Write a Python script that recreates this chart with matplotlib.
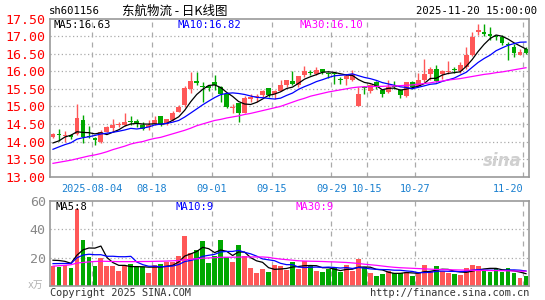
import numpy as np
import pandas as pd
import matplotlib
matplotlib.use("Agg")
import matplotlib.pyplot as plt

plt.rcParams['font.family'] = ['DejaVu Sans Mono']

# daily candles, 2025-07-24 .. 2025-11-20 (80 trading days)
opens = [14.12, 14.19, 14.15, 14.20, 14.21, 14.60, 14.15, 14.10, 14.00, 14.28,
         14.38, 14.47, 14.46, 14.58, 14.59, 14.48, 14.40, 14.50, 14.72, 14.50,
         14.60, 14.85, 15.03, 15.50, 15.72, 15.56, 15.57, 15.70, 15.55, 15.35,
         14.95, 15.10, 14.82, 15.22, 15.26, 15.32, 15.52, 15.35, 15.45, 15.60,
         15.71, 15.60, 15.88, 15.96, 15.91, 16.07, 15.94, 15.94, 15.77, 15.77,
         15.75, 15.02, 15.53, 15.43, 15.70, 15.48, 15.41, 15.56, 15.48, 15.30,
         15.68, 15.58, 15.74, 15.91, 16.05, 15.91, 15.99, 16.05, 16.00, 16.12,
         16.47, 17.11, 17.11, 17.05, 16.98, 16.97, 16.77, 16.70, 16.46, 16.64]
highs = [14.24, 14.35, 14.30, 14.22, 15.06, 14.75, 14.45, 14.13, 14.33, 14.45,
         14.63, 14.55, 14.80, 14.72, 14.63, 14.55, 14.60, 14.72, 14.73, 14.65,
         14.87, 15.04, 15.57, 15.99, 15.99, 15.70, 15.60, 15.89, 15.58, 15.36,
         15.08, 15.10, 15.29, 15.35, 15.35, 15.46, 15.52, 15.46, 15.76, 15.75,
         16.02, 15.86, 16.15, 16.04, 16.12, 16.07, 15.98, 15.95, 15.84, 15.93,
         16.03, 15.56, 15.57, 15.65, 15.72, 15.50, 15.74, 15.71, 15.50, 15.70,
         15.72, 15.95, 16.36, 16.12, 16.19, 16.03, 16.28, 16.12, 16.26, 16.69,
         17.11, 17.33, 17.35, 17.27, 17.02, 17.02, 16.83, 16.78, 16.64, 16.69]
lows = [14.10, 14.02, 14.00, 14.06, 14.20, 13.97, 14.10, 13.90, 13.97, 14.26,
        14.30, 14.40, 14.45, 14.46, 14.40, 14.32, 14.32, 14.46, 14.43, 14.47,
        14.58, 14.83, 14.97, 15.38, 15.60, 15.13, 15.45, 15.46, 15.13, 14.94,
        14.80, 14.56, 14.80, 15.13, 15.13, 15.27, 15.27, 15.22, 15.44, 15.55,
        15.62, 15.55, 15.85, 15.88, 15.88, 15.93, 15.80, 15.65, 15.65, 15.60,
        15.73, 15.00, 15.35, 15.38, 15.49, 15.27, 15.38, 15.50, 15.25, 15.28,
        15.50, 15.55, 15.69, 15.76, 15.69, 15.79, 15.93, 15.95, 15.95, 16.07,
        16.43, 17.02, 17.00, 16.88, 16.88, 16.76, 16.33, 16.40, 16.45, 16.50]
closes = [14.21, 14.18, 14.20, 14.12, 14.68, 14.12, 14.14, 14.03, 14.28, 14.42,
          14.46, 14.49, 14.56, 14.57, 14.50, 14.37, 14.48, 14.60, 14.50, 14.63,
          14.82, 14.97, 15.53, 15.71, 15.66, 15.55, 15.53, 15.60, 15.35, 14.97,
          14.97, 14.80, 15.25, 15.28, 15.27, 15.45, 15.32, 15.43, 15.60, 15.74,
          15.65, 15.86, 16.02, 15.95, 16.04, 15.98, 15.93, 15.93, 15.76, 15.86,
          15.93, 15.34, 15.52, 15.60, 15.55, 15.35, 15.55, 15.55, 15.32, 15.68,
          15.55, 15.76, 15.93, 16.05, 15.71, 16.00, 16.00, 16.04, 16.17, 16.47,
          16.97, 17.16, 17.05, 17.00, 16.97, 16.80, 16.75, 16.52, 16.56, 16.53]
prior_closes = [13.50, 13.55, 13.60, 13.65, 13.70, 13.88, 13.65, 13.87, 14.19]
ma30 = [13.38, 13.41, 13.44, 13.47, 13.51, 13.55, 13.59, 13.62, 13.66, 13.71,
        13.77, 13.82, 13.87, 13.93, 13.97, 14.00, 14.05, 14.09, 14.12, 14.17,
        14.22, 14.27, 14.32, 14.38, 14.45, 14.50, 14.55, 14.60, 14.63, 14.67,
        14.70, 14.73, 14.77, 14.80, 14.84, 14.88, 14.92, 14.96, 15.00, 15.06,
        15.12, 15.18, 15.23, 15.29, 15.33, 15.37, 15.41, 15.44, 15.47, 15.50,
        15.53, 15.55, 15.56, 15.56, 15.57, 15.57, 15.58, 15.58, 15.59, 15.60,
        15.61, 15.63, 15.65, 15.67, 15.70, 15.72, 15.75, 15.77, 15.79, 15.82,
        15.85, 15.88, 15.91, 15.93, 15.96, 15.98, 16.01, 16.04, 16.07, 16.10]

# volume, 万手
volumes = [13.9, 13.5, 14.6, 12.5, 54.3, 32.4, 20.3, 14.2, 19.8, 14.2,
           14.2, 10.4, 14.2, 15.4, 14.2, 13.7, 9.0, 14.6, 15.4, 17.0,
           17.0, 21.0, 35.2, 23.2, 25.3, 31.7, 16.3, 21.3, 32.4, 20.6,
           17.0, 28.8, 21.0, 12.8, 9.2, 11.8, 9.9, 15.1, 14.0, 11.1,
           16.8, 11.8, 18.0, 14.6, 10.4, 9.7, 11.8, 12.8, 9.7, 14.6,
           10.4, 18.9, 13.5, 9.0, 7.1, 8.3, 10.9, 9.2, 9.2, 9.9,
           6.9, 9.9, 14.6, 10.4, 13.9, 10.4, 9.4, 8.3, 7.6, 12.5,
           14.6, 13.9, 11.6, 9.7, 12.5, 9.7, 12.5, 9.0, 5.4, 6.9]
prior_volumes = [13.0, 14.0, 13.0, 14.0, 13.0, 14.5, 17.6, 19.5, 25.5]
vol_ma30 = [14.0, 14.3, 14.6, 15.0, 16.2, 16.6, 17.0, 17.3, 17.5, 17.4,
            17.3, 17.2, 17.2, 17.2, 17.2, 17.3, 17.3, 17.4, 17.5, 17.6,
            17.8, 18.0, 18.5, 18.9, 19.2, 19.6, 19.8, 20.0, 20.3, 20.3,
            20.3, 20.4, 20.5, 20.5, 20.5, 20.5, 20.2, 19.5, 19.0, 18.6,
            18.2, 17.8, 17.6, 17.5, 17.4, 17.3, 17.1, 17.0, 16.8, 16.6,
            16.3, 15.9, 15.4, 15.0, 14.6, 14.1, 13.6, 13.2, 12.9, 12.7,
            12.5, 12.3, 12.1, 11.9, 11.7, 11.6, 11.5, 11.4, 11.3, 11.2,
            11.1, 11.0, 11.0, 10.9, 10.9, 10.8, 10.7, 10.6, 10.5, 10.4]

tick_idx = [7, 17, 27, 37, 47, 53, 61, 79]
tick_labels = ['2025-08-04', '08-18', '09-01', '09-15', '09-29', '10-15', '10-27', '11-20']

RED = '#ff5757'
GREEN = '#00a800'
GRID = '#aaaaaa'
FRAME = '#999999'
BLUE_TXT = '#1a80d0'

n = len(closes)
x = np.arange(n)
o = np.array(opens); h = np.array(highs); l = np.array(lows); c = np.array(closes)
up = c >= o
colors = np.where(up, RED, GREEN)

cl_all = pd.Series(prior_closes + closes)
ma5 = cl_all.rolling(5).mean().values[len(prior_closes):]
ma10 = cl_all.rolling(10).mean().values[len(prior_closes):]
v_all = pd.Series(prior_volumes + volumes)
vma5 = v_all.rolling(5).mean().values[len(prior_volumes):]
vma10 = v_all.rolling(10).mean().values[len(prior_volumes):]

W, H = 545, 300
fig = plt.figure(figsize=(W / 100, H / 100), dpi=100)


def px(xp, yp):
    return xp / W, 1 - yp / H


ax1 = fig.add_axes([50 / W, 1 - 176.7 / H, 479 / W, 158.2 / H])
ax2 = fig.add_axes([50 / W, 1 - 286 / H, 479 / W, 85 / H])

for ax in (ax1, ax2):
    ax.set_xlim(-0.5, n - 0.5)
    for s in ax.spines.values():
        s.set_color(FRAME)
        s.set_linewidth(1.2)
    ax.tick_params(length=0)
    for t in tick_idx:
        ax.axvline(t - 0.5, color=GRID, lw=0.9, ls=(0, (4, 4)), zorder=0)

# price panel
ax1.set_ylim(13, 17.5)
for yv in np.arange(13.5, 17.01, 0.5):
    ax1.axhline(yv, color=GRID, lw=0.9, ls=(0, (1, 2)), zorder=0)
ax1.vlines(x, l, h, colors=colors, lw=1.0, zorder=2)
body_low = np.minimum(o, c)
body_h = np.maximum(np.abs(c - o), 0.028)
ax1.bar(x, body_h, bottom=body_low, width=0.8, color=colors, lw=0, zorder=3)
ax1.plot(x, ma5, color='black', lw=0.9, zorder=4)
ax1.plot(x, ma10, color='#0000ff', lw=0.9, zorder=4)
ax1.plot(x, ma30, color='#ff00ff', lw=0.9, zorder=4)
yt = np.arange(13, 17.51, 0.5)
ax1.set_yticks(yt)
ax1.set_yticklabels(['%.2f' % v for v in yt], color='#ff0000', fontsize=9.5)
ax1.tick_params(axis='y', pad=3)
ax1.set_xticks([t - 0.5 for t in tick_idx])
ax1.set_xticklabels(tick_labels, color=BLUE_TXT, fontsize=7.4)
ax1.tick_params(axis='x', pad=5)
ax1.get_xticklabels()[-1].set_ha('right')
ax1.text(0.985, 0.04, 'sina', transform=ax1.transAxes, ha='right', va='bottom',
         fontsize=12, fontstyle='italic', fontweight='bold', color='#d0d0d0',
         family='DejaVu Sans', zorder=1)

# volume panel
ax2.set_ylim(0, 60)
for yv in (20, 40):
    ax2.axhline(yv, color=GRID, lw=0.9, ls=(0, (1, 2)), zorder=0)
vcol = np.where(up, RED, GREEN)
ax2.bar(x, volumes, width=0.8, color=vcol, lw=0, zorder=2)
ax2.plot(x, vma5, color='black', lw=0.9, zorder=4)
ax2.plot(x, vma10, color='#0000ff', lw=0.9, zorder=4)
ax2.plot(x, vol_ma30, color='#ff00ff', lw=0.9, zorder=4)
ax2.set_yticks([20, 40, 60])
ax2.set_yticklabels(['20', '40', '60'], color='#888888', fontsize=9.5)
ax2.tick_params(axis='y', pad=3)
ax2.set_xticks([])

# header
fig.text(*px(49, 11), 'sh601156', fontsize=7.6, va='center', ha='left')
fig.text(*px(122, 11), '东航物流 - 日K线图', fontsize=9, va='center', ha='left',
         family=['Noto Sans CJK SC', 'DejaVu Sans'])
fig.text(*px(537, 11), '2025-11-20 15:00:00', fontsize=7.6, va='center', ha='right')

fig.text(*px(54, 24.5), 'MA5:16.63', fontsize=7.6, va='center', color='black')
fig.text(*px(177, 24.5), 'MA10:16.82', fontsize=7.6, va='center', color='#0000ff')
fig.text(*px(299, 24.5), 'MA30:16.10', fontsize=7.6, va='center', color='#ff00ff')

fig.text(*px(55, 207), 'MA5:8', fontsize=7.6, va='center', color='black')
fig.text(*px(175, 207), 'MA10:9', fontsize=7.6, va='center', color='#0000ff')
fig.text(*px(295, 207), 'MA30:9', fontsize=7.6, va='center', color='#ff00ff')

fig.text(*px(28, 285), 'x万', fontsize=7, va='center', color='#b0b0b0',
         family=['DejaVu Sans Mono', 'Noto Sans CJK SC'])
fig.text(*px(50, 293), 'Copyright 2025 SINA.COM', fontsize=7.4, va='center', color='#333333')
fig.text(*px(529, 293), 'http://finance.sina.com.cn', fontsize=7.4, va='center',
         ha='right', color='#333333')

fig.savefig('out.png', dpi=100)
